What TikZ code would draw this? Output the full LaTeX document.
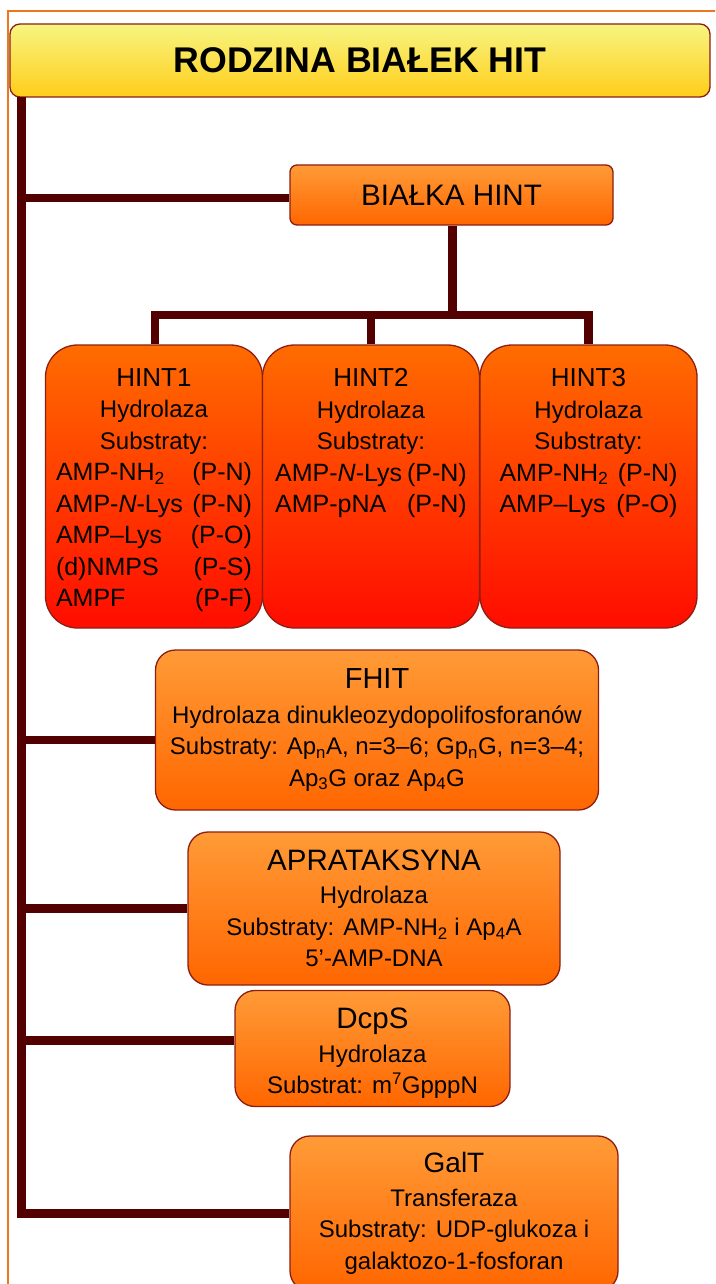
\documentclass[tikz,border=0pt]{standalone}
\usepackage{fontspec}
\setmainfont{Liberation Sans}
\usetikzlibrary{positioning}

\definecolor{linebrown}{RGB}{82,0,0}
\definecolor{boxedge}{RGB}{140,30,20}
\definecolor{frameorange}{RGB}{235,120,30}
\definecolor{titletop}{RGB}{247,245,130}
\definecolor{titlebot}{RGB}{255,205,25}
\definecolor{hinttop}{RGB}{255,108,0}
\definecolor{hintbot}{RGB}{255,12,0}
\definecolor{orangetop}{RGB}{255,155,55}
\definecolor{orangebot}{RGB}{255,102,0}

\newcommand{\fs}[2]{\fontsize{#1}{#2}\selectfont}

\begin{document}
\begin{tikzpicture}[x=1pt,y=-1pt,
  box/.style={draw=boxedge,line width=1.3pt,rounded corners=20pt,top color=orangetop,bottom color=orangebot,
    inner sep=0pt,align=center,font=\fs{24}{31.5}},
  hintbox/.style={box,rounded corners=32pt,top color=hinttop,bottom color=hintbot,minimum width=217pt,minimum height=283pt},
  hinttext/.style={inner sep=0pt,align=center,font=\fs{24}{31.5}},
  conn/.style={draw=linebrown,line width=8.5pt}]
\useasboundingbox (0,0) rectangle (715,1284);
\clip (0,0) rectangle (715,1284);

% ramka
\draw[frameorange,line width=2pt] (8,11) rectangle (740,1310);

\node[box,rounded corners=10pt,top color=titletop,bottom color=titlebot,minimum width=700pt,minimum height=73pt,
  font=\fs{35.7}{40}\bfseries] (title) at (360,60.5) {RODZINA BIAŁEK HIT};
\node[box,rounded corners=7pt,minimum width=323pt,minimum height=60pt,font=\fs{29.6}{32}] (hint) at (451.5,195) {BIAŁKA HINT};

% HINT1-3
\node[hintbox] (hint1) at (154,486.5) {};
\node[hintbox] (hint2) at (371,486.5) {};
\node[hintbox] (hint3) at (588.5,486.5) {};

\node[hinttext,below=24pt of hint1.north] (hint1txt) {{\fs{26}{30}HINT1}\\Hydrolaza\\Substraty:\\
\fs{25}{31.5}\begin{tabular}[t]{@{}l@{\hspace{8pt}}r@{}}
AMP-NH\textsubscript{2} & (P-N)\\
AMP-\textit{N}-Lys & (P-N)\\
AMP–Lys & (P-O)\\
(d)NMPS & (P-S)\\
AMPF & (P-F)
\end{tabular}};
\node[hinttext,below=24pt of hint2.north] (hint2txt) {{\fs{26}{30}HINT2}\\Hydrolaza\\Substraty:\\
\fs{25}{31.5}\begin{tabular}[t]{@{}l@{\hspace{5pt}}r@{}}
AMP-\textit{N}-Lys & (P-N)\\
AMP-pNA & (P-N)
\end{tabular}};
\node[hinttext,below=24pt of hint3.north] (hint3txt) {{\fs{26}{30}HINT3}\\Hydrolaza\\Substraty:\\
\fs{25}{31.5}\begin{tabular}[t]{@{}l@{\hspace{8pt}}r@{}}
AMP-NH\textsubscript{2} & (P-N)\\
AMP–Lys & (P-O)
\end{tabular}};

\node[box,minimum width=443pt,minimum height=160pt] (fhit) at (377,730)
  {{\fs{29}{33}FHIT}\\[3pt]Hydrolaza dinukleozydopolifosforanów\\
  Substraty: Ap\textsubscript{n}A, n=3–6; Gp\textsubscript{n}G, n=3–4;\\
  Ap\textsubscript{3}G oraz Ap\textsubscript{4}G};
\node[box,minimum width=372pt,minimum height=153pt] (aprat) at (374,908.5)
  {{\fs{29.5}{33}APRATAKSYNA}\\[2pt]Hydrolaza\\Substraty: AMP-NH\textsubscript{2} i Ap\textsubscript{4}A\\5’-AMP-DNA};
\node[box,minimum width=275pt,minimum height=116pt] (dcps) at (372.5,1048.5)
  {\rule{0pt}{30pt}{\fs{29.5}{33}DcpS}\\[2pt]Hydrolaza\\Substrat: m\textsuperscript{7}GpppN};
\node[box,minimum width=328pt,minimum height=155pt] (galt) at (454,1213.5)
  {{\fs{28}{33}GalT}\\[2pt]Transferaza\\Substraty: UDP-glukoza i\\galaktozo-1-fosforan};

% polaczenia
\coordinate (trunk) at (21.5,97);
\coordinate (split) at (452.5,315);
\coordinate (fhitin) at ([yshift=-10pt]fhit.west);
\coordinate (dcpsin) at ([yshift=8pt]dcps.west);
\coordinate (hintin) at ([yshift=-3pt]hint.west);
\draw[conn] (trunk) |- (galt.west);
\draw[conn] (trunk |- hintin) -- (hintin);
\draw[conn] (trunk |- fhitin) -- (fhitin);
\draw[conn] (trunk |- aprat.west) -- (aprat.west);
\draw[conn] (trunk |- dcpsin) -- (dcpsin);
\draw[conn] (hint.south -| split) -- (split);
\draw[conn] (hint1.north -| 155,0) |- (split);
\draw[conn] (hint3.north) |- (split);
\draw[conn] (hint2.north) -- (hint2.north |- split);

\end{tikzpicture}
\end{document}
